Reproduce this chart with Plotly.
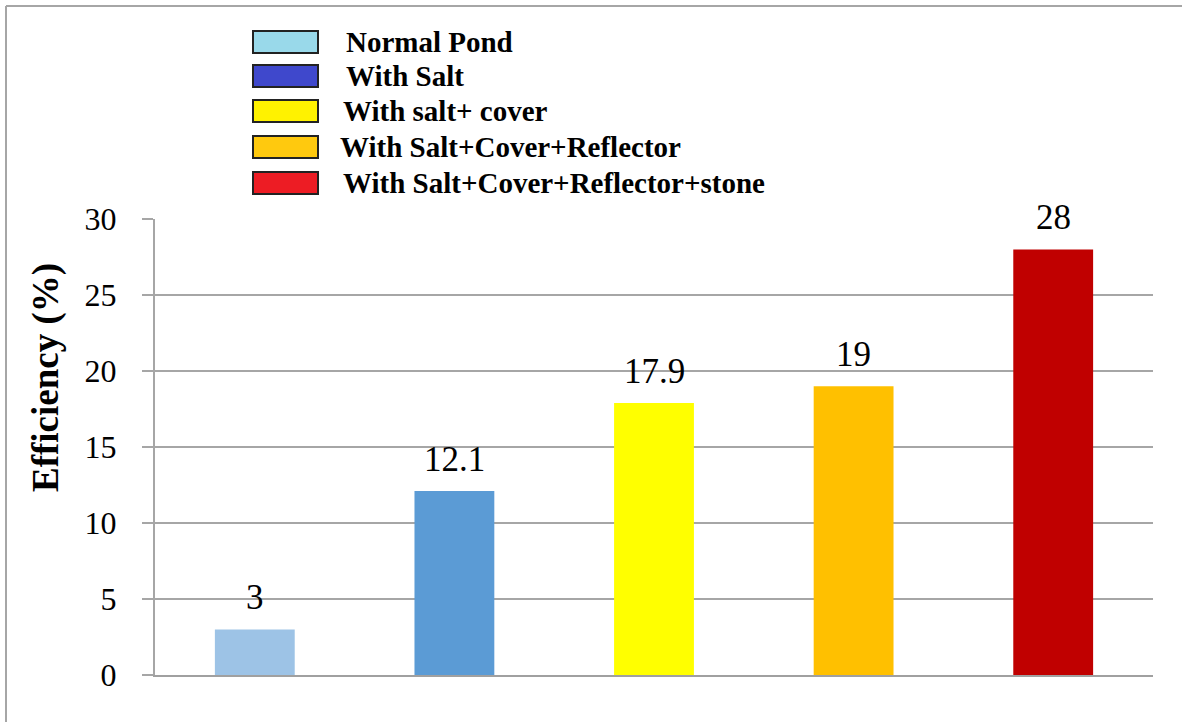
import plotly.graph_objects as go

# Pond configurations and their measured efficiencies
categories = ["Normal Pond", "With Salt", "With salt+ cover",
              "With Salt+Cover+Reflector", "With Salt+Cover+Reflector+stone"]
efficiency = [3, 12.1, 17.9, 19, 28]
value_labels = ["3", "12.1", "17.9", "19", "28"]
bar_colors = ["#9DC3E6", "#5B9BD5", "#FFFF00", "#FFC000", "#C00000"]
key_colors = ["#99D9EA", "#3F48CC", "#FFF200", "#FFC90E", "#ED1C24"]
y_ticks = [0, 5, 10, 15, 20, 25, 30]

W, H = 1182, 722
L, R, T, B = 155, 29, 219, 47
SERIF = "Liberation Serif"

fig = go.Figure()
fig.add_trace(go.Bar(
    x=categories, y=efficiency, marker=dict(color=bar_colors, line=dict(width=0)),
    width=0.4, showlegend=False, hoverinfo="x+y",
))

# value labels above each bar
for c, v, t in zip(categories, efficiency, value_labels):
    fig.add_annotation(x=c, y=v, text=t, showarrow=False, yanchor="bottom",
                       yshift=10, font=dict(family=SERIF, size=35, color="#000"))


def px(x, y):
    """Convert page pixels to paper coordinates."""
    return (x - L) / (W - L - R), (H - B - y) / (H - T - B)


shapes = []
# outer frame
shapes.append(dict(type="line", xref="paper", yref="paper",
                   x0=px(6, 0)[0], x1=px(1182, 0)[0], y0=px(0, 6)[1], y1=px(0, 6)[1],
                   line=dict(color="#A6A6A6", width=2)))
shapes.append(dict(type="line", xref="paper", yref="paper",
                   x0=px(6, 0)[0], x1=px(6, 0)[0], y0=px(0, 6)[1], y1=px(0, 722)[1],
                   line=dict(color="#A6A6A6", width=2)))

# key: coloured boxes with labels
row_y = [42, 76, 111, 147, 183]
text_x = [344, 344, 341, 338, 341]
for i, (name, col) in enumerate(zip(categories, key_colors)):
    x0, y0 = px(253, row_y[i] - 11)
    x1, y1 = px(318, row_y[i] + 11)
    shapes.append(dict(type="rect", xref="paper", yref="paper",
                       x0=x0, x1=x1, y0=y1, y1=y0, fillcolor=col,
                       line=dict(color="#222222", width=2)))
    tx, ty = px(text_x[i], row_y[i])
    fig.add_annotation(xref="paper", yref="paper", x=tx, y=ty, text="<b>%s</b>" % name,
                       showarrow=False, xanchor="left", yanchor="middle",
                       font=dict(family=SERIF, size=29, color="#000"))

# y-axis title
tx, ty = px(46, 378)
fig.add_annotation(xref="paper", yref="paper", x=tx, y=ty, text="<b>Efficiency (%)</b>",
                   textangle=-90, showarrow=False, xanchor="center", yanchor="middle",
                   font=dict(family=SERIF, size=37, color="#000"))

fig.update_layout(
    width=W, height=H, margin=dict(l=L, r=R, t=T, b=B, pad=0),
    paper_bgcolor="white", plot_bgcolor="white", shapes=shapes,
    font=dict(family=SERIF, color="#000"),
    bargap=0.6,
)
fig.update_xaxes(showticklabels=False, showgrid=False, showline=True,
                 linecolor="#A0A0A0", linewidth=2, ticks="")
fig.update_yaxes(range=[0, 30], tickvals=y_ticks, showgrid=True, gridcolor="#A6A6A6",
                 gridwidth=1.5, showline=True, linecolor="#A6A6A6", linewidth=2,
                 ticks="outside", ticklen=11, tickcolor="#A6A6A6", tickwidth=1.5,
                 ticklabelstandoff=19, zeroline=False,
                 tickfont=dict(family=SERIF, size=32, color="#000"))

fig.write_html("out.html")
